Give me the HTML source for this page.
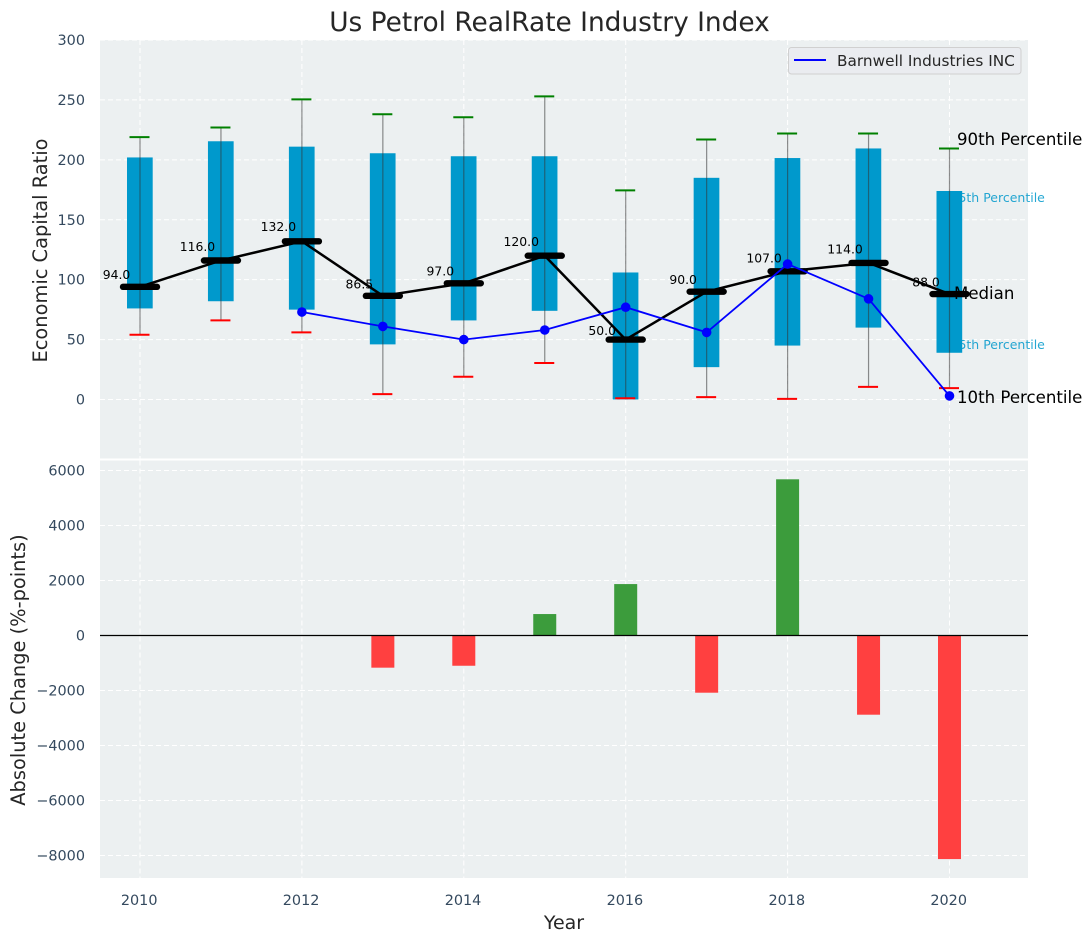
<!DOCTYPE html>
<html>
<head>
<meta charset="utf-8">
<style>
html,body{margin:0;padding:0;background:#fff;width:1092px;height:942px;overflow:hidden}
svg{display:block;font-family:"DejaVu Sans","Liberation Sans",sans-serif}
</style>
</head>
<body>
<svg id="chart" xmlns="http://www.w3.org/2000/svg" width="1092" height="942" viewBox="0 0 1092 942">
  <rect x="100" y="40" width="928" height="418.5" fill="#ecf0f1"/>
  <rect x="100" y="460.5" width="928" height="417.5" fill="#ecf0f1"/>
  <g id="grid"></g>
  <text x="950.5" y="202" font-size="12.5px" fill="#0099cc" opacity="0.85">75th Percentile</text>
  <text x="950.5" y="349" font-size="12.5px" fill="#0099cc" opacity="0.85">25th Percentile</text>
  <g id="boxes"></g>
  <g id="series"></g>
  <g id="bars"></g>
  <g id="ticks"></g>
  <text x="549.5" y="31" font-size="26.4px" fill="#262626" text-anchor="middle">Us Petrol RealRate Industry Index</text>
  <text transform="translate(47 250.5) rotate(-90)" font-size="19.4px" fill="#262626" text-anchor="middle">Economic Capital Ratio</text>
  <text transform="translate(25 670) rotate(-90)" font-size="19.4px" fill="#262626" text-anchor="middle">Absolute Change (%-points)</text>
  <text x="564" y="929" font-size="19px" fill="#262626" text-anchor="middle">Year</text>
  <g>
    <rect x="788.5" y="47.5" width="232.5" height="26.5" rx="3" fill="#eaecf0" stroke="#d0d0d0" stroke-width="1"/>
    <line x1="794" y1="60" x2="826" y2="60" stroke="#0000ff" stroke-width="2"/>
    <text x="837" y="66" font-size="15.3px" fill="#262626">Barnwell Industries INC</text>
  </g>
  <text x="957" y="145" font-size="16.6px" fill="#000">90th Percentile</text>
  <text x="954" y="299" font-size="16.6px" fill="#000">Median</text>
  <text x="957" y="403" font-size="16.6px" fill="#000">10th Percentile</text>
</svg>
<script>
var years = [2010, 2011, 2012, 2013, 2014, 2015, 2016, 2017, 2018, 2019, 2020];
var p90 = [219, 227, 250.5, 238, 235.5, 253, 174.5, 217, 222, 222, 209.5];
var q75 = [202, 215.5, 211, 205.5, 203, 203, 106, 185, 201.5, 209.5, 174];
var medians = [94, 116, 132, 86.5, 97, 120, 50, 90, 107, 114, 88];
var q25 = [76, 82, 75, 46, 66, 74, 0, 27, 45, 60, 39];
var p10 = [54, 66, 56, 4.5, 19, 30.5, 1, 2, 0.5, 10.5, 9.5];
var company = [null, null, 73, 61, 50, 58, 77, 56, 113, 84, 3];
var changes = [null, null, null, -1170, -1100, 780, 1870, -2080, 5680, -2880, -8130];
var topTicks = [0, 50, 100, 150, 200, 250, 300];
var bottomTicks = [-8000, -6000, -4000, -2000, 0, 2000, 4000, 6000];
var xTicks = [2010, 2012, 2014, 2016, 2018, 2020];

var NS = 'http://www.w3.org/2000/svg';
function xs(v) { return 140 + (v - 2010) * 80.95; }
function yt(v) { return 399.5 - v * 1.1983; }
function yb(v) { return 635.5 - v * 0.0275; }
function fmtTick(v) { return v < 0 ? '\u2212' + (-v) : String(v); }

function make(tag, parent, attrs) {
  var el = document.createElementNS(NS, tag);
  for (var k in attrs) el.setAttribute(k, attrs[k]);
  parent.appendChild(el);
  return el;
}

var gridG = document.getElementById('grid');
var boxG = document.getElementById('boxes');
var seriesG = document.getElementById('series');
var barG = document.getElementById('bars');
var tickG = document.getElementById('ticks');
var gridStyle = { stroke: '#ffffff', 'stroke-width': 1, 'stroke-dasharray': '5 3' };

xTicks.forEach(function (t) {
  var a = make('line', gridG, Object.assign({ x1: xs(t), x2: xs(t), y1: 40, y2: 458.5 }, gridStyle));
  
  
  var b = make('line', gridG, Object.assign({ x1: xs(t), x2: xs(t), y1: 460.5, y2: 878 }, gridStyle));
  
  
  var l = make('text', tickG, { x: xs(t) - 0.8, y: 905, 'font-size': '14.4px', fill: '#34495e', 'text-anchor': 'middle' });
  
  
  l.textContent = t;
});
topTicks.forEach(function (t) {
  var a = make('line', gridG, Object.assign({ x1: 100, x2: 1028, y1: yt(t), y2: yt(t) }, gridStyle));
  
  
  var l = make('text', tickG, { x: 85, y: yt(t) + 5, 'font-size': '14.4px', fill: '#34495e', 'text-anchor': 'end' });
  
  
  l.textContent = fmtTick(t);
});
bottomTicks.forEach(function (t) {
  var a = make('line', gridG, Object.assign({ x1: 100, x2: 1028, y1: yb(t), y2: yb(t) }, gridStyle));
  
  
  var l = make('text', tickG, { x: 85, y: yb(t) + 5, 'font-size': '14.4px', fill: '#34495e', 'text-anchor': 'end' });
  
  
  l.textContent = fmtTick(t);
});

years.forEach(function (yr, i) {
  var x = xs(yr);
  var box = make('rect', boxG, { x: x - 13, y: yt(q75[i]), width: 25.7, height: yt(q25[i]) - yt(q75[i]), fill: '#0099cc' });
  
  
  var w = make('line', boxG, { x1: x, x2: x, y1: yt(p90[i]), y2: yt(p10[i]), stroke: '#333', 'stroke-opacity': 0.55, 'stroke-width': 1.2 });
  
  
  var hi = make('line', boxG, { x1: x - 10.5, x2: x + 9.5, y1: yt(p90[i]), y2: yt(p90[i]), stroke: '#008000', 'stroke-width': 2 });
  
  
  var lo = make('line', boxG, { x1: x - 10.5, x2: x + 9.5, y1: yt(p10[i]), y2: yt(p10[i]), stroke: '#ff0000', 'stroke-width': 2 });
  
  
});

var medPts = years.map(function (yr, i) { return xs(yr) + ',' + yt(medians[i]); }).join(' ');
var medLine = make('polyline', seriesG, { points: medPts, fill: 'none', stroke: '#000', 'stroke-width': 2.5 });


years.forEach(function (yr, i) {
  var x = xs(yr), y = yt(medians[i]);
  var m = make('line', seriesG, { x1: x - 17, x2: x + 17, y1: y, y2: y, stroke: '#000', 'stroke-width': 6.4, 'stroke-linecap': 'round' });
  
  
  var t = make('text', seriesG, { x: x - 23.5, y: yt(medians[i] * 1.06) - 1, 'font-size': '12.4px', fill: '#000', 'text-anchor': 'middle' });
  
  
  t.textContent = medians[i].toFixed(1);
});

var coPts = [];
years.forEach(function (yr, i) { if (company[i] !== null) coPts.push(xs(yr) + ',' + yt(company[i])); });
var coLine = make('polyline', seriesG, { points: coPts.join(' '), fill: 'none', stroke: '#0000ff', 'stroke-width': 1.8 });


years.forEach(function (yr, i) {
  if (company[i] === null) return;
  var c = make('circle', seriesG, { cx: xs(yr), cy: yt(company[i]), r: 4.8, fill: '#0000ff' });
  
  
});

years.forEach(function (yr, i) {
  if (changes[i] === null) return;
  var v = changes[i];
  var y0 = Math.min(yb(0), yb(v));
  var h = Math.abs(yb(v) - yb(0));
  var r = make('rect', barG, { x: xs(yr) - 11.5, y: y0, width: 23, height: h, fill: v < 0 ? '#ff4040' : '#3c9c3c' });
  
  
});
var zero = make('line', barG, { x1: 100, x2: 1028, y1: yb(0), y2: yb(0), stroke: '#000', 'stroke-width': 1.2 });


</script>
</body>
</html>
